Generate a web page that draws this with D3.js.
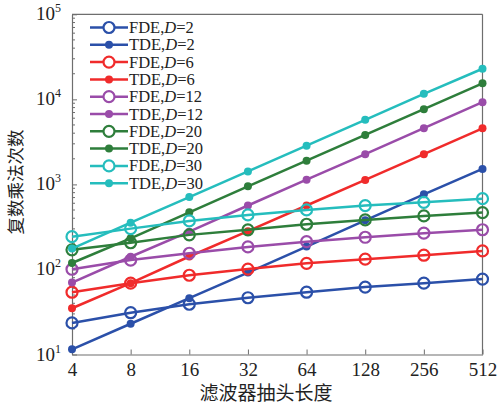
<!DOCTYPE html>
<html>
<head>
<meta charset="utf-8">
<script src="https://cdn.jsdelivr.net/npm/d3@7"></script>
<style>
  body { margin: 0; background: #fff; }
  svg { display: block; }
  text { font-family: "Liberation Serif", "DejaVu Serif", serif; fill: #222; }
</style>
</head>
<body>
<svg id="chart" width="501" height="406"></svg>
<script>
// tap lengths on the x axis
const taps = [4, 8, 16, 32, 64, 128, 256, 512];
const yTickExps = [1, 2, 3, 4, 5];

// series
const fdeD2 = [23.5, 31, 39, 46.5, 54, 62, 69, 77];
const tdeD2 = [11.5, 23, 46, 92, 186, 378, 765, 1520];
const fdeD6 = [54, 69, 85.5, 101, 118, 132, 147, 165];
const tdeD6 = [35, 69, 142, 282, 565, 1130, 2265, 4570];
const fdeD12 = [100.5, 129, 155, 184, 212, 239, 267, 293];
const tdeD12 = [70, 141, 278, 565, 1135, 2265, 4580, 9250];
const fdeD20 = [170, 206, 255, 292, 340, 382, 426, 466];
const tdeD20 = [119, 232, 470, 950, 1900, 3820, 7670, 15450];
const fdeD30 = [243, 302, 372, 438, 501, 563, 615, 680];
const tdeD30 = [176, 355, 710, 1420, 2850, 5740, 11600, 22900];

const seriesList = [
  { kind: 'FDE', d: 2,  values: fdeD2,  color: '#2b50a9' },
  { kind: 'TDE', d: 2,  values: tdeD2,  color: '#2b50a9' },
  { kind: 'FDE', d: 6,  values: fdeD6,  color: '#f02b2b' },
  { kind: 'TDE', d: 6,  values: tdeD6,  color: '#f02b2b' },
  { kind: 'FDE', d: 12, values: fdeD12, color: '#9a4ca9' },
  { kind: 'TDE', d: 12, values: tdeD12, color: '#9a4ca9' },
  { kind: 'FDE', d: 20, values: fdeD20, color: '#2e7e3b' },
  { kind: 'TDE', d: 20, values: tdeD20, color: '#2e7e3b' },
  { kind: 'FDE', d: 30, values: fdeD30, color: '#25bdbd' },
  { kind: 'TDE', d: 30, values: tdeD30, color: '#25bdbd' }
];

const svg = d3.select('#chart');
const margin = { left: 72, right: 482.5, top: 14.3, bottom: 354.5 };

const x = d3.scaleLog().base(2).domain([4, 512]).range([margin.left, margin.right]);
const y = d3.scaleLog().domain([10, 1e5]).range([margin.bottom, margin.top]);

const axisColor = '#6e6e6e';

// x axis, ticks pointing inward
const xAxis = svg.append('g')
  .attr('transform', `translate(0,${margin.bottom})`)
  .call(d3.axisBottom(x).tickValues(taps).tickFormat(d3.format('d'))
    .tickSizeInner(-5).tickSizeOuter(0).tickPadding(8));
xAxis.select('.domain').attr('stroke', axisColor).attr('stroke-width', 1.2);
xAxis.selectAll('.tick line').attr('stroke', axisColor);
xAxis.selectAll('.tick text')
  .style('font-family', '"Liberation Serif", serif')
  .style('font-size', '19px').attr('fill', '#222');

// y axis with log minor ticks
const minorTicks = [];
for (let e = 1; e < 5; e++) for (let m = 2; m <= 9; m++) minorTicks.push(m * Math.pow(10, e));

const yAxis = svg.append('g')
  .attr('transform', `translate(${margin.left},0)`)
  .call(d3.axisLeft(y).tickValues(yTickExps.map(e => Math.pow(10, e))).tickFormat('')
    .tickSizeInner(-5).tickSizeOuter(0));
yAxis.select('.domain').attr('stroke', axisColor).attr('stroke-width', 1.2);
yAxis.selectAll('.tick line').attr('stroke', axisColor);

svg.append('g').selectAll('line').data(minorTicks).enter().append('line')
  .attr('x1', margin.left).attr('x2', margin.left + 3)
  .attr('y1', d => y(d)).attr('y2', d => y(d))
  .attr('stroke', axisColor);

// y tick labels as 10^n
const yLabels = svg.append('g').selectAll('text').data(yTickExps).enter().append('text')
  .attr('x', 61)
  .attr('y', d => y(Math.pow(10, d)) + 6)
  .attr('text-anchor', 'end')
  .style('font-size', '19px');
yLabels.append('tspan').text('10');
yLabels.append('tspan').attr('dy', -8).style('font-size', '12px').text(d => d);

// top and right frame
svg.append('line').attr('x1', margin.left).attr('x2', margin.right)
  .attr('y1', margin.top).attr('y2', margin.top)
  .attr('stroke', axisColor).attr('stroke-width', 1.2);
svg.append('line').attr('x1', margin.right).attr('x2', margin.right)
  .attr('y1', margin.top).attr('y2', margin.bottom)
  .attr('stroke', axisColor).attr('stroke-width', 1.2);

// lines and markers
const line = d3.line()
  .x((d, i) => x(taps[i]))
  .y(d => y(d));

seriesList.forEach(s => {
  const g = svg.append('g');
  g.append('path')
    .datum(s.values)
    .attr('fill', 'none')
    .attr('stroke', s.color)
    .attr('stroke-width', 2.5)
    .attr('d', line);
  g.selectAll('circle').data(s.values).enter().append('circle')
    .attr('cx', (d, i) => x(taps[i]))
    .attr('cy', d => y(d))
    .attr('r', s.kind === 'FDE' ? 5.5 : 4)
    .attr('fill', s.kind === 'FDE' ? 'none' : s.color)
    .attr('stroke', s.color)
    .attr('stroke-width', s.kind === 'FDE' ? 2.2 : 0);
});

// legend
const legend = svg.append('g').attr('transform', 'translate(90,27.5)');
seriesList.forEach((s, i) => {
  const row = legend.append('g').attr('transform', `translate(0,${i * 17.3})`);
  row.append('line')
    .attr('x1', 0).attr('x2', 38).attr('y1', 0).attr('y2', 0)
    .attr('stroke', s.color).attr('stroke-width', 2.5);
  row.append('circle')
    .attr('cx', 19).attr('cy', 0)
    .attr('r', s.kind === 'FDE' ? 5.5 : 4)
    .attr('fill', s.kind === 'FDE' ? '#fff' : s.color)
    .attr('stroke', s.color)
    .attr('stroke-width', s.kind === 'FDE' ? 2.2 : 0);
  const t = row.append('text')
    .attr('x', 39).attr('y', 5.5)
    .style('font-size', '16.5px');
  t.append('tspan').text(s.kind + ',');
  t.append('tspan').style('font-style', 'italic').text('D');
  t.append('tspan').text('=' + s.d);
});

// axis titles
svg.append('text')
  .attr('transform', 'translate(22,182) rotate(-90)')
  .attr('text-anchor', 'middle')
  .style('font-family', '"Noto Sans CJK SC", sans-serif')
  .style('font-size', '17.5px')
  .text('复数乘法次数');

svg.append('text')
  .attr('x', 266).attr('y', 400)
  .attr('text-anchor', 'middle')
  .style('font-family', '"Noto Sans CJK SC", sans-serif')
  .style('font-size', '19px')
  .text('滤波器抽头长度');
</script>
</body>
</html>
